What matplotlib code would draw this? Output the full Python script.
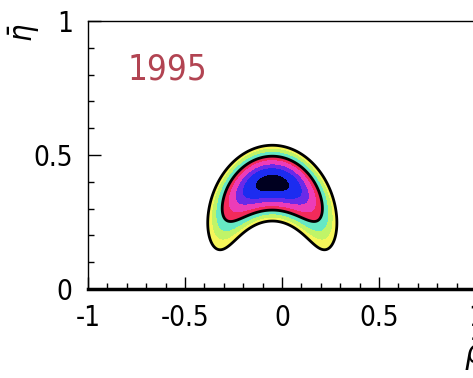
import numpy as np
import matplotlib
matplotlib.use("Agg")
import matplotlib.pyplot as plt

# banana-shaped likelihood (rho, eta) for the 1995 fit
center = (-0.05, 0.12)      # centre of the arch
scale = (0.275, 0.275)      # x / y stretch of the arch
sigma_r = 0.21              # radial width
sigma_theta = 34.5          # angular width, degrees
fill_levels = [0.05, 0.09, 0.14, 0.22, 0.35, 0.50, 0.65, 0.88, 1.01]
fill_colors = ['#f6f65a', '#c0f468', '#66e8c4', '#f22a5a', '#ec3cb8',
               '#6a2ae8', '#1c2cf0', '#000020']
line_levels = [0.05, 0.22]
year_label = "1995"

x_ticks = [-1, -0.5, 0, 0.5, 1]
x_ticklabels = ["-1", "-0.5", "0", "0.5", "1"]
y_ticks = [0, 0.5, 1]
y_ticklabels = ["0", "0.5", "1"]

rho = np.linspace(-1, 1, 601)
eta = np.linspace(0, 1, 401)
X, Y = np.meshgrid(rho, eta)
u = (X - center[0]) / scale[0]
v = (Y - center[1]) / scale[1]
r = np.hypot(u, v)
theta = np.degrees(np.arctan2(u, v))
L = np.exp(-0.5 * ((r - 1.0) / sigma_r) ** 2) * np.exp(-0.5 * (theta / sigma_theta) ** 2)

plt.rcParams['font.family'] = ['DejaVu Sans']
plt.rcParams['font.stretch'] = 'condensed'

fig = plt.figure(figsize=(4.73, 3.78), dpi=100)
ax = fig.add_axes([88 / 473, 1 - 289 / 378, 388 / 473, 268 / 378])

ax.contourf(X, Y, L, levels=fill_levels, colors=fill_colors)
ax.contour(X, Y, L, levels=line_levels, colors='black', linewidths=2.0)

ax.set_xlim(-1, 1)
ax.set_ylim(0, 1)
ax.set_xticks(x_ticks)
ax.set_xticklabels(x_ticklabels)
ax.set_yticks(y_ticks)
ax.set_yticklabels(y_ticklabels)
ax.set_xticks(np.arange(-1, 1.001, 0.1), minor=True)
ax.set_yticks(np.arange(0, 1.001, 0.1), minor=True)
ax.tick_params(which='both', direction='in', top=False, right=False)
ax.tick_params(which='major', length=9, width=1, labelsize=20, pad=11)
ax.tick_params(which='minor', length=4, width=1)

for s in ['left', 'top', 'right']:
    ax.spines[s].set_linewidth(1.0)
ax.spines['bottom'].set_linewidth(2.5)

ax.text(-0.59, 0.82, year_label, color='#b24452', fontsize=25,
        ha='center', va='center')

fig.text(24 / 473, 1 - 33 / 378, r'$\bar{\eta}$', fontsize=22, rotation=90,
         ha='center', va='center')
fig.text(464 / 473, 1 - 336 / 378, r'$\bar{\rho}$', fontsize=24,
         ha='left', va='top')

fig.savefig('out.png', dpi=100)
